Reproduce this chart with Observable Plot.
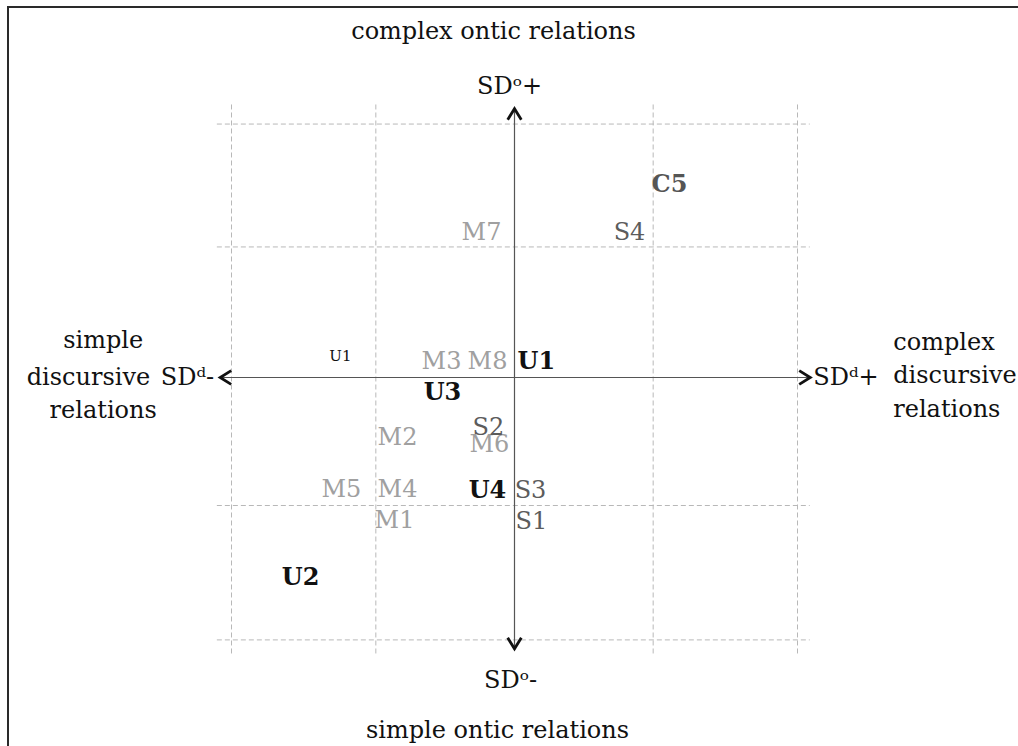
<!DOCTYPE html>
<html><head><meta charset="utf-8">
<script src="https://cdn.jsdelivr.net/npm/d3@7"></script>
<script src="https://cdn.jsdelivr.net/npm/@observablehq/plot@0.6"></script>
<style>
html,body{margin:0;padding:0;background:#fff;}
#wrap{position:relative;width:1018px;height:746px;overflow:hidden;}
#border{position:absolute;left:7px;top:6px;right:-10px;bottom:-10px;border-top:2px solid #2a2a2a;border-left:2px solid #2a2a2a;}
#wrap svg{position:absolute;left:0;top:0;display:block;}
</style></head><body><div id="wrap"><div id="border"></div></div>
<script>
// ---- data ----
const gridX = [-2, -0.98, 0.98, 2];          // vertical dashed grid lines
const gridY = [1.98, 1.02, -1.0, -2.05];     // horizontal dashed grid lines
const gridSpanX = [-2.10, 2.09];
const gridSpanY = [-2.16, 2.13];
const axisX = [-2.08, 2.09];                  // SDd axis extent
const axisY = [-2.12, 2.10];                  // SDo axis extent

const labelText  = ["C5","M7","S4","U1","M3","M8","U1","U3","S2","M6","M2","M5","M4","U4","S3","M1","S1","U2"];
const labelX     = [1.095,-0.233,0.813,-1.230,-0.516,-0.191,0.155,-0.509,-0.184,-0.177,-0.827,-1.223,-0.827,-0.191,0.113,-0.848,0.120,-1.512];
const labelY     = [1.508,1.133,1.133,0.164,0.125,0.125,0.125,-0.117,-0.391,-0.523,-0.469,-0.875,-0.875,-0.883,-0.883,-1.117,-1.125,-1.563];
const labelGroup = ["C","M","S","u","M","M","U","U","S","M","M","M","M","U","S","M","S","U"];

const poleTop = "SDᵒ+", poleBottom = "SDᵒ-", poleLeft = "SDᵈ-", poleRight = "SDᵈ+";
const titleTop = "complex ontic relations";
const titleBottom = "simple ontic relations";
const titleLeft = ["simple", "discursive", "relations"];
const titleRight = ["complex", "discursive", "relations"];

// ---- styles ----
const FONT = "DejaVu Serif";
const FS = 24;
const groupStyle = {
  M: {fill: "#a0a0a0", fontWeight: "normal", fontSize: FS},
  S: {fill: "#5c5c5c", fontWeight: "normal", fontSize: FS},
  C: {fill: "#555555", fontWeight: "bold", fontSize: FS},
  U: {fill: "#111111", fontWeight: "bold", fontSize: FS},
  u: {fill: "#111111", fontWeight: "normal", fontSize: 15}
};

const rows = labelText.map((t, i) => ({t, x: labelX[i], y: labelY[i], g: labelGroup[i]}));

const chevron = {
  draw(ctx, size) {
    const r = Math.sqrt(size / Math.PI);
    ctx.moveTo(-r, -0.62 * r);
    ctx.lineTo(0, 0);
    ctx.lineTo(-r, 0.62 * r);
  }
};
const heads = [
  {x: axisX[1], y: 0, rot: 0},
  {x: axisX[0], y: 0, rot: 180},
  {x: 0, y: axisY[1], rot: -90},
  {x: 0, y: axisY[0], rot: 90}
];

const txt = {fontFamily: FONT, fontSize: FS, fill: "#111", lineAnchor: "middle"};

const plot = Plot.plot({
  width: 1018,
  height: 746,
  margin: 0,
  style: {background: "transparent", overflow: "visible"},
  x: {domain: [-514 / 141.5, 504 / 141.5], axis: null},
  y: {domain: [-369 / 128, 377 / 128], axis: null},
  marks: [
    Plot.ruleX(gridX, {y1: gridSpanY[0], y2: gridSpanY[1], stroke: "#b8b8b8", strokeWidth: 1, strokeDasharray: "5,3"}),
    Plot.ruleY(gridY, {x1: gridSpanX[0], x2: gridSpanX[1], stroke: "#b8b8b8", strokeWidth: 1, strokeDasharray: "5,3"}),
    Plot.ruleY([0], {x1: axisX[0], x2: axisX[1], stroke: "#555", strokeWidth: 1.2}),
    Plot.ruleX([0], {y1: axisY[0], y2: axisY[1], stroke: "#555", strokeWidth: 1.2}),
    Plot.dot(heads, {x: "x", y: "y", rotate: "rot", symbol: chevron, r: 11, fill: "none", stroke: "#111", strokeWidth: 2.8, strokeLinejoin: "miter", strokeLinecap: "butt"}),
    // pole labels
    Plot.text([poleTop], {x: 0, y: axisY[1], text: d => d, dy: -22, dx: -5, ...txt}),
    Plot.text([titleTop], {x: 0, y: axisY[1], text: d => d, dy: -77, dx: -21, ...txt}),
    Plot.text([poleBottom], {x: 0, y: axisY[0], text: d => d, dy: 31, dx: -4, ...txt}),
    Plot.text([titleBottom], {x: 0, y: axisY[0], text: d => d, dy: 81, dx: -17, ...txt}),
    Plot.text([poleLeft], {x: axisX[0], y: 0, text: d => d, dx: -6, textAnchor: "end", ...txt}),
    Plot.text([titleLeft[1]], {x: axisX[0], y: 0, text: d => d, dx: -70, textAnchor: "end", ...txt}),
    Plot.text([titleLeft[0]], {x: axisX[0], y: 0, text: d => d, dx: -117, dy: -37, textAnchor: "middle", ...txt}),
    Plot.text([titleLeft[2]], {x: axisX[0], y: 0, text: d => d, dx: -117, dy: 33, textAnchor: "middle", ...txt}),
    Plot.text([poleRight], {x: axisX[1], y: 0, text: d => d, dx: 3, textAnchor: "start", ...txt}),
    Plot.text([titleRight.join("\n")], {x: axisX[1], y: 0, text: d => d, dx: 83, dy: -5, textAnchor: "start", lineHeight: 1.4, ...txt}),
    // data labels
    ...Object.entries(groupStyle).map(([g, s]) =>
      Plot.text(rows.filter(d => d.g === g), {
        x: "x", y: "y", text: "t", textAnchor: "middle", lineAnchor: "middle",
        fontFamily: FONT, ...s
      }))
  ]
});
document.getElementById("wrap").appendChild(plot);
</script>
</body></html>
